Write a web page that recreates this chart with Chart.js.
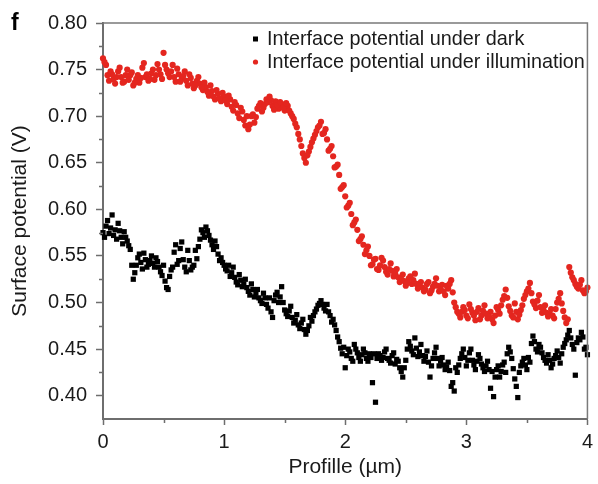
<!DOCTYPE html>
<html>
<head>
<meta charset="utf-8">
<script src="https://cdn.jsdelivr.net/npm/chart.js@4.4.1/dist/chart.umd.min.js"></script>
<style>
html,body{margin:0;padding:0;background:#fff;}
#wrap{position:relative;width:598px;height:484px;}
</style>
</head>
<body>
<div id="wrap"><canvas id="c" width="598" height="484"></canvas></div>
<script>
// ---- data ----
// profile positions (µm): main samples and the in-between samples
const profileX = [0.000,0.025,0.050,0.075,0.100,0.125,0.150,0.175,0.200,0.225,0.250,0.275,0.300,0.325,0.350,0.375,0.400,0.425,0.450,0.475,0.500,0.525,0.550,0.575,0.600,0.625,0.650,0.675,0.700,0.725,0.750,0.775,0.800,0.825,0.850,0.875,0.900,0.925,0.950,0.975,1.000,1.025,1.050,1.075,1.100,1.125,1.150,1.175,1.200,1.225,1.250,1.275,1.300,1.325,1.350,1.375,1.400,1.425,1.450,1.475,1.500,1.525,1.550,1.575,1.600,1.625,1.650,1.675,1.700,1.725,1.750,1.775,1.800,1.825,1.850,1.875,1.900,1.925,1.950,1.975,2.000,2.025,2.050,2.075,2.100,2.125,2.150,2.175,2.200,2.225,2.250,2.275,2.300,2.325,2.350,2.375,2.400,2.425,2.450,2.475,2.500,2.525,2.550,2.575,2.600,2.625,2.650,2.675,2.700,2.725,2.750,2.775,2.800,2.825,2.850,2.875,2.900,2.925,2.950,2.975,3.000,3.025,3.050,3.075,3.100,3.125,3.150,3.175,3.200,3.225,3.250,3.275,3.300,3.325,3.350,3.375,3.400,3.425,3.450,3.475,3.500,3.525,3.550,3.575,3.600,3.625,3.650,3.675,3.700,3.725,3.750,3.775,3.800,3.825,3.850,3.875,3.900,3.925,3.950,3.975,4.000];

const profileXMid = [0.0125,0.0375,0.0625,0.0875,0.1125,0.1375,0.1625,0.1875,0.2125,0.2375,0.2625,0.2875,0.3125,0.3375,0.3625,0.3875,0.4125,0.4375,0.4625,0.4875,0.5125,0.5375,0.5625,0.5875,0.6125,0.6375,0.6625,0.6875,0.7125,0.7375,0.7625,0.7875,0.8125,0.8375,0.8625,0.8875,0.9125,0.9375,0.9625,0.9875,1.0125,1.0375,1.0625,1.0875,1.1125,1.1375,1.1625,1.1875,1.2125,1.2375,1.2625,1.2875,1.3125,1.3375,1.3625,1.3875,1.4125,1.4375,1.4625,1.4875,1.5125,1.5375,1.5625,1.5875,1.6125,1.6375,1.6625,1.6875,1.7125,1.7375,1.7625,1.7875,1.8125,1.8375,1.8625,1.8875,1.9125,1.9375,1.9625,1.9875,2.0125,2.0375,2.0625,2.0875,2.1125,2.1375,2.1625,2.1875,2.2125,2.2375,2.2625,2.2875,2.3125,2.3375,2.3625,2.3875,2.4125,2.4375,2.4625,2.4875,2.5125,2.5375,2.5625,2.5875,2.6125,2.6375,2.6625,2.6875,2.7125,2.7375,2.7625,2.7875,2.8125,2.8375,2.8625,2.8875,2.9125,2.9375,2.9625,2.9875,3.0125,3.0375,3.0625,3.0875,3.1125,3.1375,3.1625,3.1875,3.2125,3.2375,3.2625,3.2875,3.3125,3.3375,3.3625,3.3875,3.4125,3.4375,3.4625,3.4875,3.5125,3.5375,3.5625,3.5875,3.6125,3.6375,3.6625,3.6875,3.7125,3.7375,3.7625,3.7875,3.8125,3.8375,3.8625,3.8875,3.9125,3.9375,3.9625,3.9875];

// dark (black squares), volts
const darkV = [0.575,0.582,0.574,0.594,0.578,0.585,0.570,0.576,0.566,0.557,0.525,0.540,0.552,0.536,0.546,0.541,0.550,0.538,0.544,0.533,0.540,0.516,0.528,0.538,0.562,0.545,0.565,0.538,0.556,0.535,0.540,0.547,0.568,0.575,0.581,0.572,0.562,0.566,0.552,0.548,0.540,0.534,0.528,0.538,0.522,0.530,0.517,0.525,0.512,0.520,0.506,0.514,0.502,0.510,0.498,0.505,0.484,0.508,0.500,0.517,0.492,0.485,0.496,0.478,0.487,0.472,0.482,0.466,0.475,0.480,0.490,0.497,0.502,0.494,0.498,0.486,0.482,0.470,0.458,0.445,0.430,0.450,0.440,0.455,0.446,0.437,0.450,0.440,0.445,0.414,0.393,0.445,0.438,0.447,0.440,0.435,0.446,0.439,0.430,0.420,0.438,0.458,0.448,0.462,0.442,0.455,0.437,0.448,0.420,0.440,0.452,0.432,0.441,0.428,0.436,0.410,0.405,0.425,0.440,0.450,0.432,0.446,0.438,0.428,0.444,0.434,0.426,0.437,0.408,0.399,0.428,0.420,0.433,0.425,0.452,0.440,0.418,0.398,0.432,0.440,0.428,0.436,0.464,0.450,0.455,0.446,0.438,0.444,0.430,0.440,0.448,0.435,0.452,0.460,0.470,0.455,0.422,0.462,0.468,0.450,0.444];

const darkVMid = [0.570,0.588,0.580,0.572,0.568,0.577,0.563,0.570,0.561,0.540,0.532,0.548,0.543,0.553,0.538,0.545,0.542,0.548,0.538,0.529,0.523,0.514,0.535,0.554,0.541,0.558,0.546,0.533,0.545,0.538,0.556,0.560,0.578,0.570,0.577,0.567,0.557,0.560,0.545,0.543,0.536,0.540,0.532,0.527,0.519,0.524,0.520,0.516,0.508,0.514,0.510,0.505,0.499,0.505,0.494,0.490,0.502,0.511,0.506,0.500,0.488,0.491,0.484,0.481,0.476,0.478,0.471,0.470,0.484,0.486,0.493,0.499,0.498,0.491,0.490,0.479,0.476,0.463,0.451,0.452,0.443,0.447,0.437,0.450,0.441,0.444,0.446,0.437,0.441,0.445,0.440,0.443,0.441,0.450,0.438,0.443,0.434,0.437,0.426,0.430,0.450,0.453,0.444,0.451,0.447,0.443,0.442,0.436,0.432,0.446,0.440,0.437,0.433,0.431,0.427,0.414,0.430,0.433,0.445,0.441,0.438,0.450,0.433,0.437,0.440,0.430,0.432,0.428,0.426,0.420,0.432,0.426,0.436,0.445,0.447,0.429,0.410,0.425,0.436,0.433,0.441,0.456,0.458,0.447,0.452,0.441,0.435,0.438,0.434,0.443,0.441,0.445,0.456,0.465,0.462,0.450,0.457,0.460,0.463,0.452];

// illumination (red circles), volts
const lightV = [0.762,0.755,0.738,0.745,0.735,0.748,0.742,0.737,0.750,0.744,0.733,0.740,0.736,0.752,0.742,0.738,0.746,0.739,0.756,0.745,0.768,0.750,0.742,0.755,0.737,0.745,0.740,0.748,0.733,0.741,0.730,0.738,0.735,0.728,0.731,0.722,0.727,0.718,0.724,0.716,0.721,0.713,0.718,0.706,0.712,0.698,0.705,0.690,0.686,0.700,0.693,0.708,0.714,0.709,0.718,0.721,0.711,0.716,0.708,0.713,0.706,0.711,0.703,0.697,0.688,0.675,0.660,0.650,0.662,0.672,0.680,0.688,0.694,0.682,0.675,0.665,0.657,0.646,0.637,0.624,0.614,0.604,0.595,0.586,0.578,0.568,0.562,0.556,0.550,0.541,0.547,0.535,0.548,0.538,0.530,0.542,0.528,0.536,0.522,0.530,0.518,0.526,0.520,0.531,0.515,0.522,0.512,0.520,0.510,0.517,0.526,0.512,0.519,0.508,0.515,0.524,0.500,0.490,0.484,0.495,0.486,0.498,0.489,0.481,0.494,0.486,0.497,0.483,0.490,0.478,0.495,0.488,0.503,0.514,0.496,0.486,0.499,0.482,0.492,0.504,0.512,0.521,0.501,0.494,0.508,0.489,0.497,0.485,0.493,0.483,0.500,0.510,0.491,0.478,0.538,0.527,0.520,0.515,0.524,0.510,0.516];

const lightVMid = [0.758,0.744,0.748,0.740,0.742,0.752,0.736,0.744,0.739,0.747,0.736,0.744,0.741,0.757,0.745,0.740,0.750,0.744,0.750,0.740,0.755,0.746,0.748,0.742,0.751,0.737,0.743,0.738,0.745,0.735,0.733,0.742,0.731,0.736,0.726,0.733,0.721,0.728,0.719,0.725,0.717,0.722,0.710,0.715,0.703,0.709,0.696,0.700,0.691,0.702,0.699,0.711,0.705,0.713,0.715,0.717,0.707,0.712,0.715,0.709,0.714,0.706,0.700,0.692,0.681,0.668,0.655,0.658,0.667,0.676,0.684,0.690,0.681,0.686,0.663,0.668,0.645,0.648,0.622,0.626,0.602,0.607,0.583,0.589,0.566,0.571,0.552,0.560,0.540,0.546,0.536,0.540,0.545,0.533,0.536,0.534,0.531,0.527,0.525,0.523,0.521,0.528,0.524,0.520,0.518,0.516,0.514,0.522,0.513,0.520,0.518,0.514,0.512,0.518,0.520,0.511,0.495,0.488,0.490,0.492,0.483,0.493,0.486,0.490,0.482,0.491,0.488,0.485,0.482,0.486,0.492,0.497,0.507,0.505,0.491,0.484,0.490,0.487,0.497,0.508,0.515,0.510,0.498,0.502,0.495,0.492,0.489,0.488,0.486,0.493,0.504,0.499,0.484,0.482,0.532,0.524,0.517,0.519,0.513,0.512];

const xTicks = [0, 1, 2, 3, 4];
const yTicks = [0.40, 0.45, 0.50, 0.55, 0.60, 0.65, 0.70, 0.75, 0.80];
const seriesNames = ['Interface potential under dark', 'Interface potential under illumination'];
const panelLabel = 'f';
const xTitle = 'Profille (\u00b5m)';
const yTitle = 'Surface potential (V)';

// ---- build datasets ----
const toPts = (xs, vals) => xs.map((x, i) => ({x: x, y: vals[i]}));

const FONT = '"Liberation Sans", Arial, Helvetica, sans-serif';
const AXIS = '#6e6e6e';
const TXT = '#1a1a1a';

const decorPlugin = {
  id: 'decor',
  afterDraw(chart) {
    const ctx = chart.ctx;
    const a = chart.chartArea;
    const xs = chart.scales.x, ys = chart.scales.y;
    ctx.save();
    // top and right frame
    ctx.strokeStyle = '#7a7a7a';
    ctx.lineWidth = 1.5;
    ctx.beginPath();
    ctx.moveTo(a.left, a.top); ctx.lineTo(a.right, a.top); ctx.lineTo(a.right, a.bottom);
    ctx.stroke();
    // minor ticks (midpoints between labelled ticks)
    ctx.strokeStyle = AXIS;
    ctx.lineWidth = 1.5;
    ctx.beginPath();
    for (let i = 0; i < yTicks.length - 1; i++) {
      const py = Math.round(ys.getPixelForValue((yTicks[i] + yTicks[i + 1]) / 2)) + 0.5;
      ctx.moveTo(a.left, py); ctx.lineTo(a.left - 4, py);
    }
    for (let i = 0; i < xTicks.length - 1; i++) {
      const px = Math.round(xs.getPixelForValue((xTicks[i] + xTicks[i + 1]) / 2)) + 0.5;
      ctx.moveTo(px, a.bottom); ctx.lineTo(px, a.bottom + 4);
    }
    ctx.stroke();
    // legend
    ctx.font = '19.8px ' + FONT;
    ctx.textBaseline = 'middle';
    ctx.textAlign = 'left';
    const lx = a.left + 152.5, tx = a.left + 164;
    const rows = [a.top + 16, a.top + 39];
    chart.data.datasets.forEach((ds, i) => {
      ctx.fillStyle = ds.backgroundColor;
      if (ds.pointStyle === 'rect') {
        ctx.fillRect(lx - 2.5, rows[i] - 2.5, 5, 5);
      } else {
        ctx.beginPath(); ctx.arc(lx, rows[i], 2.6, 0, Math.PI * 2); ctx.fill();
      }
      ctx.fillStyle = TXT;
      ctx.fillText(ds.label, tx, rows[i] + 1);
    });
    // panel label
    ctx.font = 'bold 23px ' + FONT;
    ctx.textBaseline = 'alphabetic';
    ctx.fillStyle = '#000';
    ctx.fillText(panelLabel, 11, 30);
    ctx.restore();
  }
};

new Chart(document.getElementById('c'), {
  type: 'scatter',
  data: {
    datasets: [
      {
        label: seriesNames[0],
        data: toPts(profileX, darkV).concat(toPts(profileXMid, darkVMid)),
        pointStyle: 'rect',
        backgroundColor: '#000000',
        borderColor: '#000000',
        borderWidth: 0,
        pointRadius: 3.7,
        clip: false
      },
      {
        label: seriesNames[1],
        data: toPts(profileX, lightV).concat(toPts(profileXMid, lightVMid)),
        pointStyle: 'circle',
        backgroundColor: '#e4261f',
        borderColor: '#e4261f',
        borderWidth: 0,
        pointRadius: 3.1,
        clip: false
      }
    ]
  },
  plugins: [decorPlugin],
  options: {
    responsive: false,
    animation: false,
    events: [],
    layout: {padding: {left: 0, right: 7, top: 23, bottom: 0}},
    plugins: {legend: {display: false}, tooltip: {enabled: false}, title: {display: false}},
    scales: {
      x: {
        type: 'linear',
        position: 'bottom',
        min: xTicks[0],
        max: xTicks[xTicks.length - 1],
        afterBuildTicks: s => { s.ticks = xTicks.map(v => ({value: v})); },
        afterFit: s => { s.height = 65; },
        grid: {drawOnChartArea: false, drawTicks: true, tickLength: 6, tickColor: AXIS, tickWidth: 1.5},
        border: {display: true, color: AXIS, width: 2},
        ticks: {font: {family: FONT, size: 20}, color: TXT, padding: 5, maxRotation: 0,
                callback: v => String(v)},
        title: {display: true, text: xTitle, font: {family: FONT, size: 21}, color: TXT,
                padding: {top: 0, bottom: 4}}
      },
      y: {
        type: 'linear',
        position: 'left',
        min: 0.375,
        max: yTicks[yTicks.length - 1],
        afterBuildTicks: s => { s.ticks = yTicks.map(v => ({value: v})); },
        afterFit: s => { s.width = 103; },
        grid: {drawOnChartArea: false, drawTicks: true, tickLength: 7, tickColor: AXIS, tickWidth: 1.5},
        border: {display: true, color: AXIS, width: 2},
        ticks: {font: {family: FONT, size: 20}, color: TXT, padding: 9,
                callback: v => Number(v).toFixed(2)},
        title: {display: true, text: yTitle, font: {family: FONT, size: 21}, color: TXT,
                padding: {top: 8, bottom: 0}}
      }
    }
  }
});
</script>
</body>
</html>
